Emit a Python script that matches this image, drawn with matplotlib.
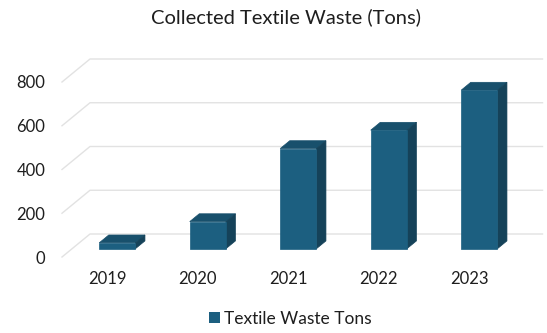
import matplotlib
matplotlib.use('Agg')
import matplotlib.pyplot as plt
from matplotlib.patches import Polygon, Rectangle, Patch

# data
years = ['2019', '2020', '2021', '2022', '2023']
tons = [27, 124, 458, 542, 725]
y_ticks = [0, 200, 400, 600, 800]

plt.rcParams['font.family'] = ['Lato', 'DejaVu Sans']
text_col = '#1e1e1e'
front_col = '#1c5f80'
side_col = '#154259'
top_col = '#18506c'
grid_col = '#e2e2e2'

fig = plt.figure(figsize=(5.47, 3.33), dpi=100)
ax = fig.add_axes([62 / 547, 76 / 333, 452.5 / 547, 175 / 333])
ax.set_xlim(-0.5, 4.5)
ax.set_ylim(0, 800)
for s in ax.spines.values():
    s.set_visible(False)

# depth vector of the floor (in data units) and bar slab inside it
depth_x, depth_y = 28 / 90.5, 23 / 0.21875
d_front, d_back = 0.36, 0.70
bar_w = 0.40

# gridlines: left side wall diagonal + back wall line
for v in y_ticks:
    ax.plot([-0.5, -0.5 + depth_x, 4.5 + depth_x], [v, v + depth_y, v + depth_y],
            color=grid_col, lw=1, clip_on=False, zorder=1)

for i, v in enumerate(tons):
    x0 = i - bar_w / 2 + d_front * depth_x
    y0 = d_front * depth_y
    ddx = (d_back - d_front) * depth_x
    ddy = (d_back - d_front) * depth_y
    x1 = x0 + bar_w
    y1 = y0 + v
    top = Polygon([(x0, y1), (x1, y1), (x1 + ddx, y1 + ddy), (x0 + ddx, y1 + ddy)],
                  closed=True, fc=top_col, ec=top_col, lw=0.5, clip_on=False, zorder=3)
    side = Polygon([(x1, y1), (x1, y0), (x1 + ddx, y0 + ddy), (x1 + ddx, y1 + ddy)],
                   closed=True, fc=side_col, ec=side_col, lw=0.5, clip_on=False, zorder=3)
    front = Rectangle((x0, y0), bar_w, v, fc=front_col, ec=front_col, lw=0.5,
                      clip_on=False, zorder=4)
    ax.add_patch(top)
    ax.add_patch(side)
    ax.add_patch(front)

ax.set_yticks(y_ticks)
ax.set_yticklabels([str(t) for t in y_ticks])
ax.set_xticks(range(len(years)))
ax.set_xticklabels(years)
ax.tick_params(axis='y', length=0, pad=12, labelsize=12, labelcolor=text_col)
ax.tick_params(axis='x', length=0, pad=10, labelsize=12, labelcolor=text_col)

fig.text(286 / 547, 1 - 17 / 333, 'Collected Textile Waste (Tons)', ha='center', va='center',
         fontsize=14.5, color=text_col)

fig.legend(handles=[Patch(fc=front_col, ec='none', label='Textile Waste Tons')],
           loc='center', bbox_to_anchor=(290 / 547, 1 - 318.5 / 333), frameon=False,
           handlelength=0.65, handleheight=0.65, handletextpad=0.2,
           prop={'size': 12.5}, labelcolor=text_col)

fig.savefig('out.png', dpi=100, facecolor='white')
